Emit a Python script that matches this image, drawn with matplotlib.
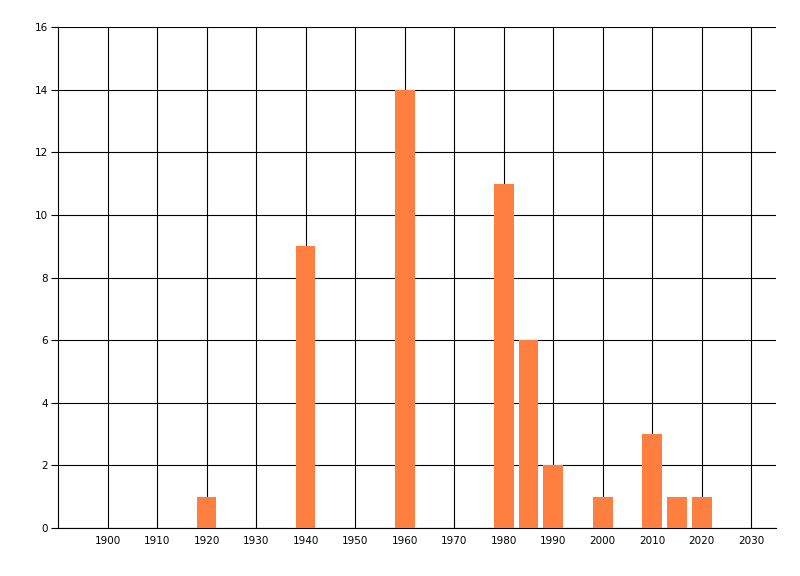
import matplotlib
matplotlib.use("Agg")
import matplotlib.pyplot as plt

years = [1920, 1940, 1960, 1980, 1985, 1990, 2000, 2010, 2015, 2020]
counts = [1, 9, 14, 11, 6, 2, 1, 3, 1, 1]
xticks = list(range(1900, 2031, 10))
yticks = list(range(0, 17, 2))

fig = plt.figure(figsize=(8, 5.76), dpi=100)
ax = fig.add_axes([58/800, 1-528/576, (776-58)/800, (528-27)/576])
ax.set_axisbelow(True)
ax.grid(True, color='black', linewidth=0.8)
ax.bar(years, counts, width=4, color='#FF7F40', zorder=3)
ax.set_xlim(1890, 2035)
ax.set_ylim(0, 16)
ax.set_xticks(xticks)
ax.set_yticks(yticks)
ax.set_xticklabels([str(t) for t in xticks])
ax.tick_params(axis='x', length=0, pad=6, labelsize=7.5)
ax.tick_params(axis='y', length=5, width=0.8, pad=2, labelsize=7.5, color='black')
for s in ['top', 'right']:
    ax.spines[s].set_visible(False)
for s in ['left', 'bottom']:
    ax.spines[s].set_color('black')
    ax.spines[s].set_linewidth(0.8)
fig.savefig('out.png', dpi=100)
